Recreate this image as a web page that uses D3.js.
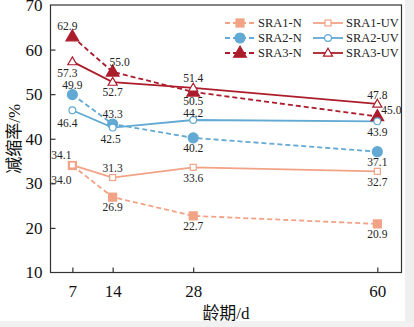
<!DOCTYPE html>
<html>
<head>
<meta charset="utf-8">
<script src="https://cdn.jsdelivr.net/npm/d3@7"></script>
<style>
  body { margin: 0; background: #fff; }
  svg text { font-family: "Liberation Serif", "Noto Sans CJK SC", serif; }
</style>
</head>
<body>
<svg id="chart"></svg>
<script>
// data
var ages = [7, 14, 28, 60];
var yTicks = [10, 20, 30, 40, 50, 60, 70];
var seriesNames = ["SRA1-N", "SRA2-N", "SRA3-N", "SRA1-UV", "SRA2-UV", "SRA3-UV"];
var sra1N  = [34.0, 26.9, 22.7, 20.9];
var sra2N  = [49.9, 43.3, 40.2, 37.1];
var sra3N  = [62.9, 55.0, 50.5, 45.0];
var sra1UV = [34.1, 31.3, 33.6, 32.7];
var sra2UV = [46.4, 42.5, 44.2, 43.9];
var sra3UV = [57.3, 52.7, 51.4, 47.8];

// label offsets [dx, dy] for each point
var labelOff = {
  "SRA1-N":  [[-11, 14], [0, 10], [0, 10], [0, 10]],
  "SRA1-UV": [[-11, -10], [0, -10], [0, 11], [0, 11]],
  "SRA2-N":  [[0, -10], [0, -10], [0, 10], [0, 10]],
  "SRA2-UV": [[-5, 13], [-2, 11], [0, -7], [0, 11]],
  "SRA3-N":  [[-5, -11], [7, -10], [0, 9], [14, -6]],
  "SRA3-UV": [[-5, 11], [0, 10], [0, -10], [0, -9]]
};

var c1 = "#f2a386", c2 = "#62a9d3", c3 = "#ac1d2c";

var series = [
  { name: seriesNames[0], vals: sra1N,  color: c1, dash: "5,3", shape: "square",   filled: true },
  { name: seriesNames[1], vals: sra2N,  color: c2, dash: "5,3", shape: "circle",   filled: true },
  { name: seriesNames[2], vals: sra3N,  color: c3, dash: "5,3", shape: "triangle", filled: true },
  { name: seriesNames[3], vals: sra1UV, color: c1, dash: null,  shape: "square",   filled: false },
  { name: seriesNames[4], vals: sra2UV, color: c2, dash: null,  shape: "circle",   filled: false },
  { name: seriesNames[5], vals: sra3UV, color: c3, dash: null,  shape: "triangle", filled: false }
];

var W = 414, H = 327;
var pLeft = 50.5, pRight = 401.5, pTop = 5, pBottom = 272.5;

var svg = d3.select("#chart").attr("width", W).attr("height", H);

// grey margins of the scanned figure
svg.append("rect").attr("x", 405).attr("y", 0).attr("width", 9).attr("height", H).attr("fill", "#efefef");
svg.append("rect").attr("x", 0).attr("y", 321).attr("width", W).attr("height", 6).attr("fill", "#f1f1f1");

var x = d3.scaleLinear().domain([3.2, 64.2]).range([pLeft, pRight]);
var y = d3.scaleLinear().domain([10, 70]).range([pBottom, pTop]);

// frame
svg.append("rect")
  .attr("x", pLeft).attr("y", pTop)
  .attr("width", pRight - pLeft).attr("height", pBottom - pTop)
  .attr("fill", "none").attr("stroke", "#333").attr("stroke-width", 1.2);

var xAxis = svg.append("g")
  .attr("transform", "translate(0," + pBottom + ")")
  .call(d3.axisBottom(x).tickValues(ages).tickSizeInner(-5).tickSizeOuter(0).tickPadding(12));
var yAxis = svg.append("g")
  .attr("transform", "translate(" + pLeft + ",0)")
  .call(d3.axisLeft(y).tickValues(yTicks).tickSizeInner(-5).tickSizeOuter(0).tickPadding(8));

[xAxis, yAxis].forEach(function(g) {
  g.select(".domain").remove();
  g.selectAll("line").attr("stroke", "#333").attr("stroke-width", 1.2);
  g.selectAll("text").attr("fill", "#111").style("font-size", "17px")
    .style("font-family", "Liberation Serif, serif");
});
yAxis.selectAll(".tick").filter(function(d) { return d == 10 || d == 70; }).select("line").remove();

// axis titles
svg.append("text")
  .attr("x", 226).attr("y", 319)
  .attr("text-anchor", "middle")
  .style("font-size", "17px").attr("fill", "#111")
  .text("龄期/d");
svg.append("text")
  .attr("transform", "translate(20," + ((pTop + pBottom) / 2) + ") rotate(-90)")
  .attr("text-anchor", "middle")
  .style("font-size", "17px").attr("fill", "#111")
  .text("减缩率/%");

function drawMarker(g, s, cx, cy) {
  var fill = s.filled ? s.color : "#fff";
  if (s.shape == "square") {
    var a = s.filled ? 8 : 6;
    g.append("rect").attr("x", cx - a / 2).attr("y", cy - a / 2).attr("width", a).attr("height", a)
      .attr("fill", fill).attr("stroke", s.color).attr("stroke-width", 1.2);
  } else if (s.shape == "circle") {
    g.append("circle").attr("cx", cx).attr("cy", cy).attr("r", s.filled ? 5 : 3.4)
      .attr("fill", fill).attr("stroke", s.color).attr("stroke-width", 1.2);
  } else {
    var sz = s.filled ? 70 : 36;
    g.append("path")
      .attr("d", d3.symbol().type(d3.symbolTriangle).size(sz)())
      .attr("transform", "translate(" + cx + "," + (cy + 0.5) + ")")
      .attr("fill", fill).attr("stroke", s.color).attr("stroke-width", 1.2);
  }
}

var line = d3.line()
  .x(function(d, i) { return x(ages[i]); })
  .y(function(d) { return y(d); });

var plot = svg.append("g");
series.forEach(function(s) {
  plot.append("path")
    .attr("d", line(s.vals))
    .attr("fill", "none")
    .attr("stroke", s.color)
    .attr("stroke-width", 1.8)
    .attr("stroke-dasharray", s.dash);
});
series.forEach(function(s) {
  s.vals.forEach(function(v, i) {
    drawMarker(plot, s, x(ages[i]), y(v));
  });
});
series.forEach(function(s) {
  s.vals.forEach(function(v, i) {
    var o = labelOff[s.name][i];
    plot.append("text")
      .attr("x", x(ages[i]) + o[0])
      .attr("y", y(v) + o[1])
      .attr("text-anchor", "middle")
      .attr("dominant-baseline", "central")
      .style("font-size", "11.5px")
      .attr("fill", "#222")
      .text(v.toFixed(1));
  });
});

// legend
var leg = svg.append("g");
series.forEach(function(s, i) {
  var col = Math.floor(i / 3), row = i % 3;
  var lx = 225 + col * 88, ly = 23 + row * 15;
  leg.append("line")
    .attr("x1", lx).attr("x2", lx + 30).attr("y1", ly).attr("y2", ly)
    .attr("stroke", s.color).attr("stroke-width", 1.8)
    .attr("stroke-dasharray", s.dash);
  drawMarker(leg, s, lx + 15, ly);
  leg.append("text")
    .attr("x", lx + 33).attr("y", ly)
    .attr("dominant-baseline", "central")
    .style("font-size", "12.5px").attr("fill", "#222")
    .text(s.name);
});
</script>
</body>
</html>
